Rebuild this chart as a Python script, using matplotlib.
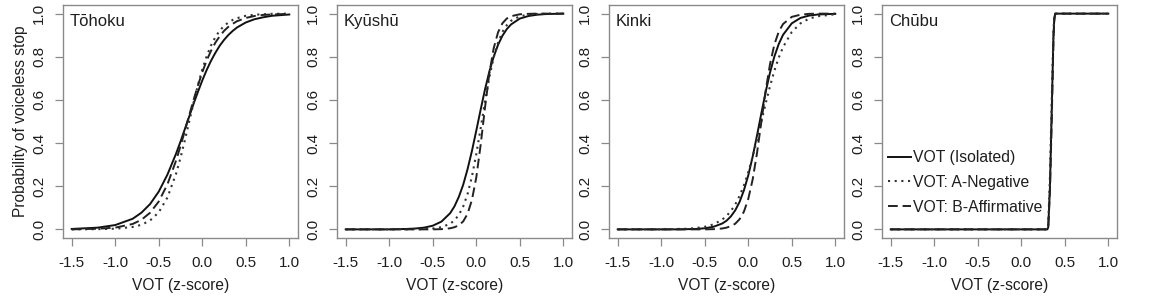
import matplotlib
matplotlib.use("Agg")
import matplotlib.pyplot as plt

plt.rcParams['font.family'] = ['Liberation Sans', 'DejaVu Sans']

# VOT grid (z-score) shared by the first three regions
vot = [-1.5, -1.2, -1.0, -0.8, -0.7, -0.6, -0.5, -0.4, -0.3, -0.25, -0.2, -0.15, -0.1, -0.05,
       0.0, 0.05, 0.1, 0.15, 0.2, 0.25, 0.3, 0.35, 0.4, 0.5, 0.6, 0.7, 0.8, 1.0]

# Tohoku
toh_iso = [0.002, 0.008, 0.020, 0.049, 0.077, 0.117, 0.175, 0.254, 0.352, 0.407, 0.465, 0.523, 0.582, 0.637,
           0.690, 0.738, 0.781, 0.818, 0.851, 0.878, 0.901, 0.920, 0.936, 0.959, 0.974, 0.983, 0.990, 0.996]
toh_neg = [0.000, 0.001, 0.003, 0.011, 0.021, 0.041, 0.079, 0.148, 0.259, 0.332, 0.413, 0.500, 0.587, 0.668,
           0.741, 0.802, 0.852, 0.891, 0.921, 0.943, 0.959, 0.971, 0.979, 0.990, 0.995, 0.997, 0.999, 1.000]
toh_aff = [0.000, 0.003, 0.008, 0.025, 0.044, 0.077, 0.129, 0.209, 0.320, 0.386, 0.457, 0.529, 0.600, 0.667,
           0.728, 0.782, 0.827, 0.865, 0.895, 0.920, 0.939, 0.953, 0.965, 0.980, 0.989, 0.994, 0.996, 0.999]

# Kyushu
kyu_iso = [0.000, 0.000, 0.000, 0.002, 0.004, 0.008, 0.017, 0.036, 0.075, 0.107, 0.151, 0.207, 0.279, 0.363,
           0.457, 0.554, 0.648, 0.731, 0.800, 0.855, 0.897, 0.928, 0.950, 0.977, 0.989, 0.995, 0.998, 1.000]
kyu_neg = [0.000, 0.000, 0.000, 0.000, 0.001, 0.001, 0.004, 0.010, 0.026, 0.042, 0.067, 0.106, 0.164, 0.244,
           0.348, 0.468, 0.591, 0.705, 0.797, 0.866, 0.915, 0.946, 0.967, 0.988, 0.995, 0.998, 0.999, 1.000]
kyu_aff = [0.000, 0.000, 0.000, 0.000, 0.000, 0.000, 0.000, 0.001, 0.005, 0.010, 0.019, 0.037, 0.072, 0.136,
           0.240, 0.390, 0.563, 0.722, 0.839, 0.913, 0.955, 0.977, 0.988, 0.997, 0.999, 1.000, 1.000, 1.000]

# Kinki
kin_iso = [0.000, 0.000, 0.000, 0.000, 0.001, 0.002, 0.005, 0.012, 0.027, 0.040, 0.060, 0.088, 0.127, 0.181,
           0.250, 0.336, 0.434, 0.537, 0.637, 0.727, 0.801, 0.859, 0.902, 0.955, 0.980, 0.991, 0.996, 0.999]
kin_neg = [0.000, 0.000, 0.000, 0.002, 0.003, 0.006, 0.012, 0.023, 0.045, 0.062, 0.085, 0.115, 0.155, 0.204,
           0.265, 0.336, 0.416, 0.500, 0.584, 0.664, 0.735, 0.796, 0.845, 0.915, 0.955, 0.977, 0.988, 0.997]
kin_aff = [0.000, 0.000, 0.000, 0.000, 0.000, 0.000, 0.000, 0.001, 0.004, 0.008, 0.015, 0.026, 0.047, 0.082,
           0.141, 0.230, 0.352, 0.497, 0.643, 0.766, 0.857, 0.916, 0.952, 0.985, 0.995, 0.999, 1.000, 1.000]

# Chubu (near step)
vot_chu = [-1.5, 0.30, 0.31, 0.33, 0.35, 0.37, 0.38, 0.39, 1.0]
chu_iso = [0.0, 0.0, 0.01, 0.20, 0.55, 0.90, 0.98, 1.0, 1.0]
chu_neg = [0.0, 0.0, 0.02, 0.25, 0.60, 0.92, 0.99, 1.0, 1.0]
chu_aff = [0.0, 0.0, 0.01, 0.18, 0.50, 0.88, 0.97, 1.0, 1.0]

regions = ['Tōhoku', 'Kyūshū', 'Kinki', 'Chūbu']
labels = ['VOT (Isolated)', 'VOT: A-Negative', 'VOT: B-Affirmative']
xticks = [-1.5, -1.0, -0.5, 0.0, 0.5, 1.0]
xticklabels = ['-1.5', '-1.0', '-0.5', '0.0', '0.5', '1.0']
yticks = [0.0, 0.2, 0.4, 0.6, 0.8, 1.0]
yticklabels = ['0.0', '0.2', '0.4', '0.6', '0.8', '1.0']

panels = [
    (vot, toh_iso, toh_neg, toh_aff),
    (vot, kyu_iso, kyu_neg, kyu_aff),
    (vot, kin_iso, kin_neg, kin_aff),
    (vot_chu, chu_iso, chu_neg, chu_aff),
]

W, H = 1149, 297
fig = plt.figure(figsize=(W / 100, H / 100), dpi=100)
lefts = [63, 337, 609, 882]
txt = '#1e1e1e'
frame = '#8a8a8a'

for i, (xs, iso, neg, aff) in enumerate(panels):
    ax = fig.add_axes([lefts[i] / W, (H - 238) / H, 235 / W, 233 / H])
    ax.plot(xs, iso, color='#111111', lw=1.4, ls='-', label=labels[0])
    ax.plot(xs, neg, color='#333333', lw=1.5, ls=(0, (1, 2.2)), label=labels[1])
    ax.plot(xs, aff, color='#222222', lw=1.4, ls=(0, (5, 2.5)), label=labels[2])
    ax.set_xlim(-1.6, 1.1)
    ax.set_ylim(-0.04, 1.04)
    ax.set_xticks(xticks)
    ax.set_xticklabels(xticklabels)
    ax.set_yticks(yticks)
    ax.set_yticklabels(yticklabels, rotation=90, va='center')
    ax.tick_params(length=6, width=0.9, color=frame, labelcolor=txt, labelsize=11)
    ax.tick_params(axis='x', pad=7)
    ax.tick_params(axis='y', pad=6)
    for s in ax.spines.values():
        s.set_color(frame)
        s.set_linewidth(1.0)
    ax.set_xlabel('VOT (z-score)', color=txt, fontsize=11.2, labelpad=6)
    if i == 0:
        ax.set_ylabel('Probability of voiceless stop', color=txt, fontsize=11.2, labelpad=3)
    ax.text(0.03, 0.96, regions[i], transform=ax.transAxes, ha='left', va='top',
            fontsize=12, color=txt)
    if i == 3:
        ax.legend(loc='lower left', bbox_to_anchor=(-0.015, 0.06), frameon=False,
                  fontsize=11.3, handlelength=1.45, handletextpad=0.15, labelspacing=0.62,
                  labelcolor=txt, borderaxespad=0.2)

fig.savefig('out.png', dpi=100)
